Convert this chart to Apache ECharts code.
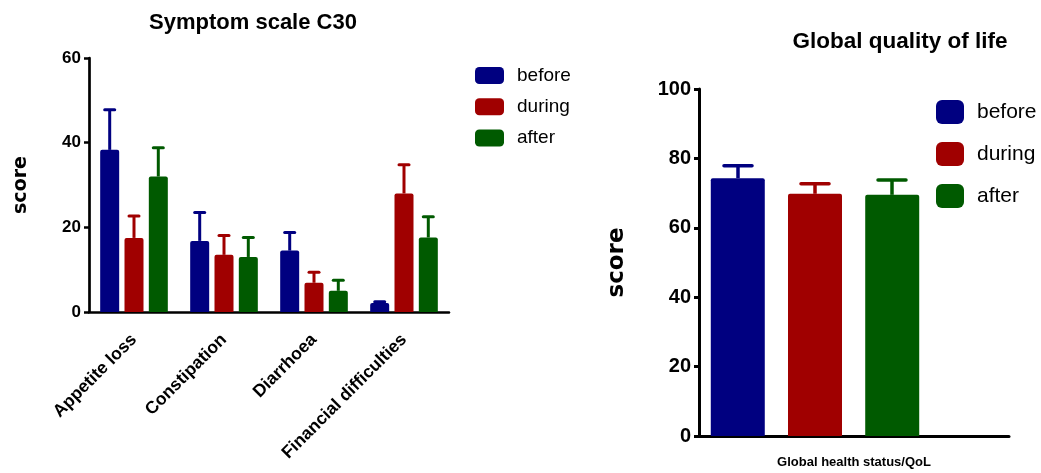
<!DOCTYPE html>
<html>
<head>
<meta charset="utf-8">
<style>
html,body{margin:0;padding:0;background:#fff;}
#chart{width:1041px;height:473px;}
</style>
<script src="https://cdn.jsdelivr.net/npm/echarts@6/dist/echarts.min.js"></script>
</head>
<body>
<div id="chart"></div>
<script>
// ---- data ----
const symptomCategories = ['Appetite loss', 'Constipation', 'Diarrhoea', 'Financial difficulties'];
const symptomBefore = [38.3, 16.8, 14.5, 2.1];
const symptomBeforeSD = [9.5, 6.7, 4.3, 0.3];
const symptomDuring = [17.5, 13.5, 6.9, 28.0];
const symptomDuringSD = [5.2, 4.6, 2.5, 6.8];
const symptomAfter = [32.0, 13.0, 5.0, 17.6];
const symptomAfterSD = [6.8, 4.6, 2.5, 4.9];

const qolCategories = ['Global health status/QoL'];
const qolBefore = [74.3];
const qolBeforeSD = [3.6];
const qolDuring = [69.8];
const qolDuringSD = [2.9];
const qolAfter = [69.5];
const qolAfterSD = [4.3];

const seriesNames = ['before', 'during', 'after'];
const symptomTicks = [0, 20, 40, 60];
const qolTicks = [0, 20, 40, 60, 80, 100];

// ---- styles ----
const colors = ['#000080', '#A00000', '#005A00'];
const F = '"Liberation Sans", Arial, Helvetica, sans-serif';
const D = '"DejaVu Sans", sans-serif';

function errSeries(name, xi, yi, means, sds, color, shift, capHalf, lw) {
  return {
    type: 'custom', name: name + ' SD', xAxisIndex: xi, yAxisIndex: yi, z: 3,
    silent: true,
    data: means.map((m, i) => [i, m, m + sds[i]]),
    renderItem: function (params, api) {
      const base = api.coord([api.value(0), api.value(1)]);
      const top = api.coord([api.value(0), api.value(2)]);
      const x = base[0] + shift;
      return {
        type: 'group',
        children: [
          {type: 'line', shape: {x1: x, y1: base[1], x2: x, y2: top[1]}, style: {stroke: color, lineWidth: lw}},
          {type: 'line', shape: {x1: x - capHalf, y1: top[1], x2: x + capHalf, y2: top[1]}, style: {stroke: color, lineWidth: lw, lineCap: 'round'}}
        ]
      };
    }
  };
}

function barSeries(name, xi, yi, data, color, width, gap) {
  return {
    type: 'bar', name: name, xAxisIndex: xi, yAxisIndex: yi, data: data,
    barWidth: width, barGap: gap,
    itemStyle: {color: color, borderRadius: [2, 2, 0, 0]}
  };
}

const leftMeans = [symptomBefore, symptomDuring, symptomAfter];
const leftSDs = [symptomBeforeSD, symptomDuringSD, symptomAfterSD];
const rightMeans = [qolBefore, qolDuring, qolAfter];
const rightSDs = [qolBeforeSD, qolDuringSD, qolAfterSD];

const series = [];
seriesNames.forEach((n, k) => {
  series.push(barSeries(n, 0, 0, leftMeans[k], colors[k], 19, '28%'));
});
seriesNames.forEach((n, k) => {
  series.push(errSeries(n + ' L', 0, 0, leftMeans[k], leftSDs[k], colors[k], (k - 1) * 24.3, 5, 3));
});
seriesNames.forEach((n, k) => {
  series.push(barSeries(n, 2, 2, rightMeans[k], colors[k], 54, '43%'));
});
seriesNames.forEach((n, k) => {
  series.push(errSeries(n + ' R', 2, 2, rightMeans[k], rightSDs[k], colors[k], (k - 1) * 77, 14, 3.5));
});

const option = {
  animation: false,
  backgroundColor: '#fff',
  title: [
    {text: 'Symptom scale C30', left: 248, top: 7, textAlign: 'center',
     textStyle: {fontFamily: F, fontWeight: 'bold', fontSize: 22, color: '#000'}},
    {text: 'Global quality of life', left: 895, top: 25, textAlign: 'center',
     textStyle: {fontFamily: F, fontWeight: 'bold', fontSize: 22.5, color: '#000'}}
  ],
  legend: [
    {data: seriesNames, orient: 'vertical', left: 475, top: 66, icon: 'roundRect', padding: 0,
     itemWidth: 29, itemHeight: 17, itemGap: 12.3, selectedMode: false,
     textStyle: {fontFamily: F, fontSize: 19, color: '#000', padding: [0, 0, 0, 8]}},
    {data: seriesNames, orient: 'vertical', left: 936, top: 100, icon: 'roundRect', padding: 0,
     itemWidth: 28, itemHeight: 24, itemGap: 18, selectedMode: false,
     textStyle: {fontFamily: F, fontSize: 21, color: '#000', padding: [0, 0, 0, 8]}}
  ],
  grid: [
    {left: 89, top: 58, width: 360, height: 254},
    {left: 699, top: 89, width: 310, height: 347},
    {left: 699, top: 89, width: 232, height: 347}
  ],
  xAxis: [
    {type: 'category', gridIndex: 0, data: symptomCategories,
     axisLine: {lineStyle: {color: '#000', width: 2.5}},
     axisTick: {alignWithLabel: true, length: 6, lineStyle: {color: '#000', width: 2.5}},
     axisLabel: {rotate: 45, interval: 0, margin: 25, color: '#000', fontFamily: F, fontWeight: 'bold', fontSize: 17.5}},
    {type: 'category', gridIndex: 1, data: qolCategories,
     axisLine: {lineStyle: {color: '#000', width: 3}},
     axisTick: {alignWithLabel: true, length: 8, lineStyle: {color: '#000', width: 3}},
     axisLabel: {margin: 20, color: '#000', fontFamily: F, fontWeight: 'bold', fontSize: 13}},
    {type: 'category', gridIndex: 2, data: qolCategories, show: false}
  ],
  yAxis: [
    {type: 'value', gridIndex: 0, min: symptomTicks[0], max: symptomTicks[symptomTicks.length - 1], interval: 20,
     name: 'score', nameLocation: 'middle', nameRotate: 90, nameGap: 58,
     nameTextStyle: {fontFamily: D, fontWeight: 'bold', fontSize: 19, color: '#000'},
     splitLine: {show: false},
     axisLine: {show: true, lineStyle: {color: '#000', width: 2.7}},
     axisTick: {show: true, length: 5, lineStyle: {color: '#000', width: 2.5}},
     axisLabel: {margin: 8, color: '#000', fontFamily: F, fontWeight: 'bold', fontSize: 17}},
    {type: 'value', gridIndex: 1, min: qolTicks[0], max: qolTicks[qolTicks.length - 1], interval: 20,
     name: 'score', nameLocation: 'middle', nameRotate: 90, nameGap: 70,
     nameTextStyle: {fontFamily: D, fontWeight: 'bold', fontSize: 23, color: '#000'},
     splitLine: {show: false},
     axisLine: {show: true, lineStyle: {color: '#000', width: 3}},
     axisTick: {show: true, length: 5, lineStyle: {color: '#000', width: 3}},
     axisLabel: {margin: 8, color: '#000', fontFamily: F, fontWeight: 'bold', fontSize: 20}},
    {type: 'value', gridIndex: 2, min: qolTicks[0], max: qolTicks[qolTicks.length - 1], interval: 20, show: false,
     splitLine: {show: false}}
  ],
  series: series
};

const chart = echarts.init(document.getElementById('chart'), null, {renderer: 'canvas'});
chart.setOption(option);
</script>
</body>
</html>
